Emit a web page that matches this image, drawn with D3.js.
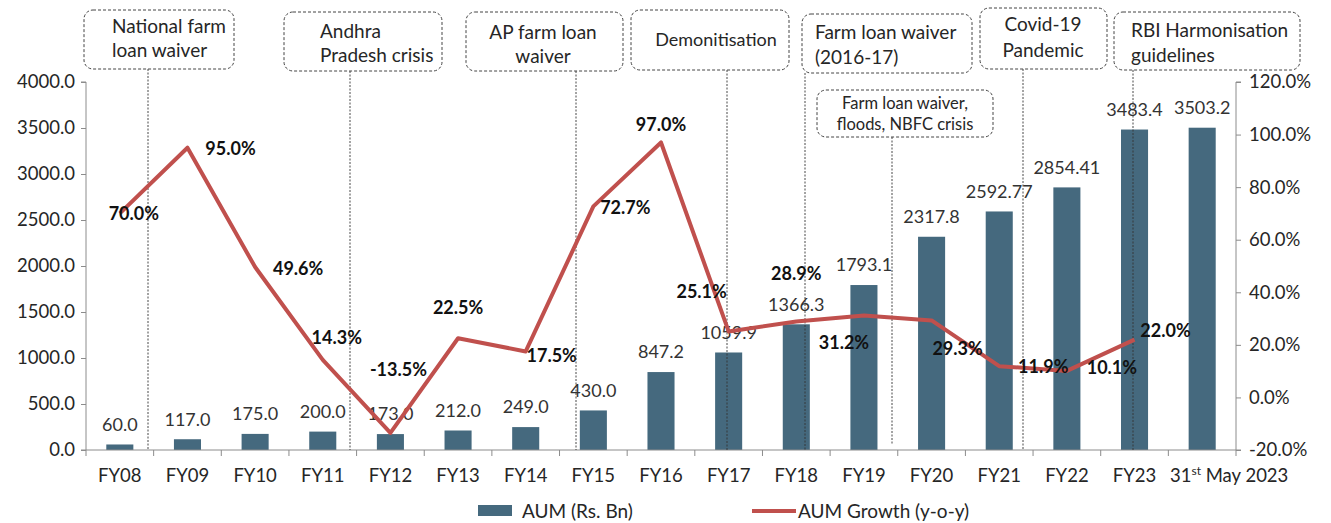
<!DOCTYPE html>
<html>
<head>
<meta charset="utf-8">
<script src="https://cdn.jsdelivr.net/npm/d3@7"></script>
<style>
  body { margin: 0; background: #fff; }
  svg { font-family: Lato, "Open Sans", sans-serif; }
</style>
</head>
<body>
<svg id="chart" width="1331" height="523"></svg>
<script>
// data
const categories = ['FY08','FY09','FY10','FY11','FY12','FY13','FY14','FY15','FY16','FY17','FY18','FY19','FY20','FY21','FY22','FY23','31st May 2023']
const aum = [60.0, 117.0, 175.0, 200.0, 173.0, 212.0, 249.0, 430.0, 847.2, 1059.9, 1366.3, 1793.1, 2317.8, 2592.77, 2854.41, 3483.4, 3503.2]
const aumLabels = ['60.0','117.0','175.0','200.0','173.0','212.0','249.0','430.0','847.2','1059.9','1366.3','1793.1','2317.8','2592.77','2854.41','3483.4','3503.2']
const growth = [70.0, 95.0, 49.6, 14.3, -13.5, 22.5, 17.5, 72.7, 97.0, 25.1, 28.9, 31.2, 29.3, 11.9, 10.1, 22.0]
const leftTicks = [0, 500, 1000, 1500, 2000, 2500, 3000, 3500, 4000]
const rightTicks = [-20, 0, 20, 40, 60, 80, 100, 120]
const eventLines = [
  ['National farm', 'loan waiver'],
  ['Andhra', 'Pradesh crisis'],
  ['AP farm loan', 'waiver'],
  ['Demonitisation'],
  ['Farm loan waiver', '(2016-17)'],
  ['Farm loan waiver,', 'floods, NBFC crisis'],
  ['Covid-19', 'Pandemic'],
  ['RBI Harmonisation', 'guidelines']
]

// layout (label nudges, callout boxes)
const growthLabelOffset = [[14,0],[43,1],[43,2],[14,-22],[8,-63],[0,-31],[26,4],[32,1],[0,-18],[-27,-40],[0,-48],[-20,27],[26,28],[44,1],[45,-3],[31,-9]]
// box: x, y, w, h, text anchor, text x, line y's, connector x, font size
const callouts = [
  {x:84, y:10, w:150, h:59, anchor:'start', tx:112, ly:[26,50], cx:148, fs:19},
  {x:284, y:12, w:158, h:59, anchor:'start', tx:320, ly:[31,55], cx:350, fs:19},
  {x:466, y:12, w:157, h:59, anchor:'middle', tx:543, ly:[32,56], cx:576, fs:19},
  {x:631, y:10, w:158, h:60, anchor:'middle', tx:716, ly:[40], cx:727, fs:18},
  {x:802, y:14, w:170, h:59, anchor:'start', tx:815, ly:[32,57], cx:805, fs:19},
  {x:817, y:90, w:176, h:47, anchor:'middle', tx:905, ly:[103,124], cx:892, fs:16.5},
  {x:980, y:8, w:127, h:61, anchor:'middle', tx:1043, ly:[24,50], cx:1023, fs:19},
  {x:1114, y:12, w:186, h:58, anchor:'start', tx:1131, ly:[30,55], cx:1133, fs:19}
]

const svg = d3.select('#chart')
const plotLeft = 86, plotRight = 1236, plotTop = 82, plotBottom = 450
const barColor = '#45697e', lineColor = '#c0504d', axisColor = '#8c8c8c', textColor = '#262626'

const x = d3.scaleBand().domain(categories).range([plotLeft, plotRight]).paddingInner(0.6).paddingOuter(0.3)
const yL = d3.scaleLinear().domain([0, 4000]).range([plotBottom, plotTop])
const yR = d3.scaleLinear().domain([-20, 120]).range([plotBottom, plotTop])
const cx = d => x(d) + x.bandwidth() / 2

// bars
svg.append('g').selectAll('rect')
  .data(categories)
  .join('rect')
  .attr('x', d => x(d))
  .attr('y', (d, i) => yL(aum[i]))
  .attr('width', x.bandwidth())
  .attr('height', (d, i) => plotBottom - yL(aum[i]))
  .attr('fill', barColor)

// left axis
const gL = svg.append('g')
  .attr('transform', `translate(${plotLeft},0)`)
  .call(d3.axisLeft(yL).tickValues(leftTicks).tickFormat(d3.format('.1f')).tickSize(5).tickPadding(6))
// right axis
const gR = svg.append('g')
  .attr('transform', `translate(${plotRight},0)`)
  .call(d3.axisRight(yR).tickValues(rightTicks).tickFormat(d => d.toFixed(1) + '%').tickSize(5).tickPadding(8))
// x axis with ticks between categories
const gX = svg.append('g').attr('transform', `translate(0,${plotBottom})`)
gX.append('line').attr('x1', plotLeft).attr('x2', plotRight).attr('stroke', axisColor)
const step = (plotRight - plotLeft) / categories.length
gX.selectAll('line.tk')
  .data(d3.range(categories.length + 1))
  .join('line')
  .attr('class', 'tk')
  .attr('x1', i => plotLeft + i * step)
  .attr('x2', i => plotLeft + i * step)
  .attr('y1', 0).attr('y2', 6)
  .attr('stroke', axisColor)

const catText = gX.selectAll('text')
  .data(categories)
  .join('text')
  .attr('x', (d, i) => cx(d) + (i === categories.length - 1 ? 27 : 0))
  .attr('y', 32)
  .attr('text-anchor', 'middle')
  .attr('font-size', 18.5)
  .attr('fill', textColor)
catText.each(function(d) {
  const t = d3.select(this)
  if (d.startsWith('31st')) {
    t.append('tspan').text('31')
    t.append('tspan').text('st').attr('font-size', 12).attr('dy', -7)
    t.append('tspan').text(' May 2023').attr('dy', 7)
  } else t.text(d)
})

;[gL, gR].forEach(g => {
  g.select('.domain').attr('stroke', axisColor)
  g.selectAll('.tick line').attr('stroke', axisColor)
  g.selectAll('.tick text').attr('font-size', 18.5).attr('fill', textColor).attr('font-family', 'Lato, sans-serif')
})
gL.select('.domain').attr('d', `M-5,${plotTop}H0V${plotBottom}H-5`)
gR.select('.domain').attr('d', `M5,${plotTop}H0V${plotBottom}H5`)

// callouts
const cg = svg.append('g')
callouts.forEach((c, i) => {
  cg.append('line')
    .attr('x1', c.cx).attr('x2', c.cx)
    .attr('y1', c.y + c.h).attr('y2', plotBottom - (i === 5 ? 6 : 0))
    .attr('stroke', '#333').attr('stroke-width', 0.9).attr('stroke-dasharray', '2,1.5')
  cg.append('rect')
    .attr('x', c.x).attr('y', c.y).attr('width', c.w).attr('height', c.h)
    .attr('rx', 9).attr('fill', '#fff')
    .attr('stroke', '#444').attr('stroke-width', 1).attr('stroke-dasharray', '3,2')
  eventLines[i].forEach((ln, j) => {
    cg.append('text')
      .attr('x', c.tx).attr('y', c.ly[j])
      .attr('dy', '0.35em')
      .attr('text-anchor', c.anchor)
      .attr('font-size', c.fs)
      .attr('fill', textColor)
      .text(ln)
  })
})

// bar value labels
svg.append('g').selectAll('text')
  .data(categories)
  .join('text')
  .attr('x', d => cx(d))
  .attr('y', (d, i) => yL(aum[i]) - 20)
  .attr('dy', '0.35em')
  .attr('text-anchor', 'middle')
  .attr('font-size', 18)
  .attr('fill', '#333')
  .text((d, i) => aumLabels[i])

// growth line
const lineCats = categories.slice(0, growth.length)
const lineGen = d3.line()
  .x(d => cx(d))
  .y((d, i) => yR(growth[i]))
svg.append('path')
  .attr('d', lineGen(lineCats))
  .attr('fill', 'none')
  .attr('stroke', lineColor)
  .attr('stroke-width', 4)
  .attr('stroke-linejoin', 'round')

svg.append('g').selectAll('text')
  .data(lineCats)
  .join('text')
  .attr('x', (d, i) => cx(d) + growthLabelOffset[i][0])
  .attr('y', (d, i) => yR(growth[i]) + growthLabelOffset[i][1])
  .attr('dy', '0.35em')
  .attr('text-anchor', 'middle')
  .attr('font-size', 18)
  .attr('font-weight', 'bold')
  .attr('fill', '#111')
  .text((d, i) => growth[i].toFixed(1) + '%')

// legend
const lg = svg.append('g')
lg.append('rect').attr('x', 478).attr('y', 505).attr('width', 34).attr('height', 11).attr('fill', barColor)
lg.append('text').attr('x', 522).attr('y', 511).attr('dy', '0.35em').attr('font-size', 19).attr('fill', textColor).text('AUM (Rs. Bn)')
lg.append('line').attr('x1', 752).attr('x2', 796).attr('y1', 511).attr('y2', 511).attr('stroke', lineColor).attr('stroke-width', 4)
lg.append('text').attr('x', 798).attr('y', 511).attr('dy', '0.35em').attr('font-size', 19).attr('fill', textColor).text('AUM Growth (y-o-y)')
</script>
</body>
</html>
